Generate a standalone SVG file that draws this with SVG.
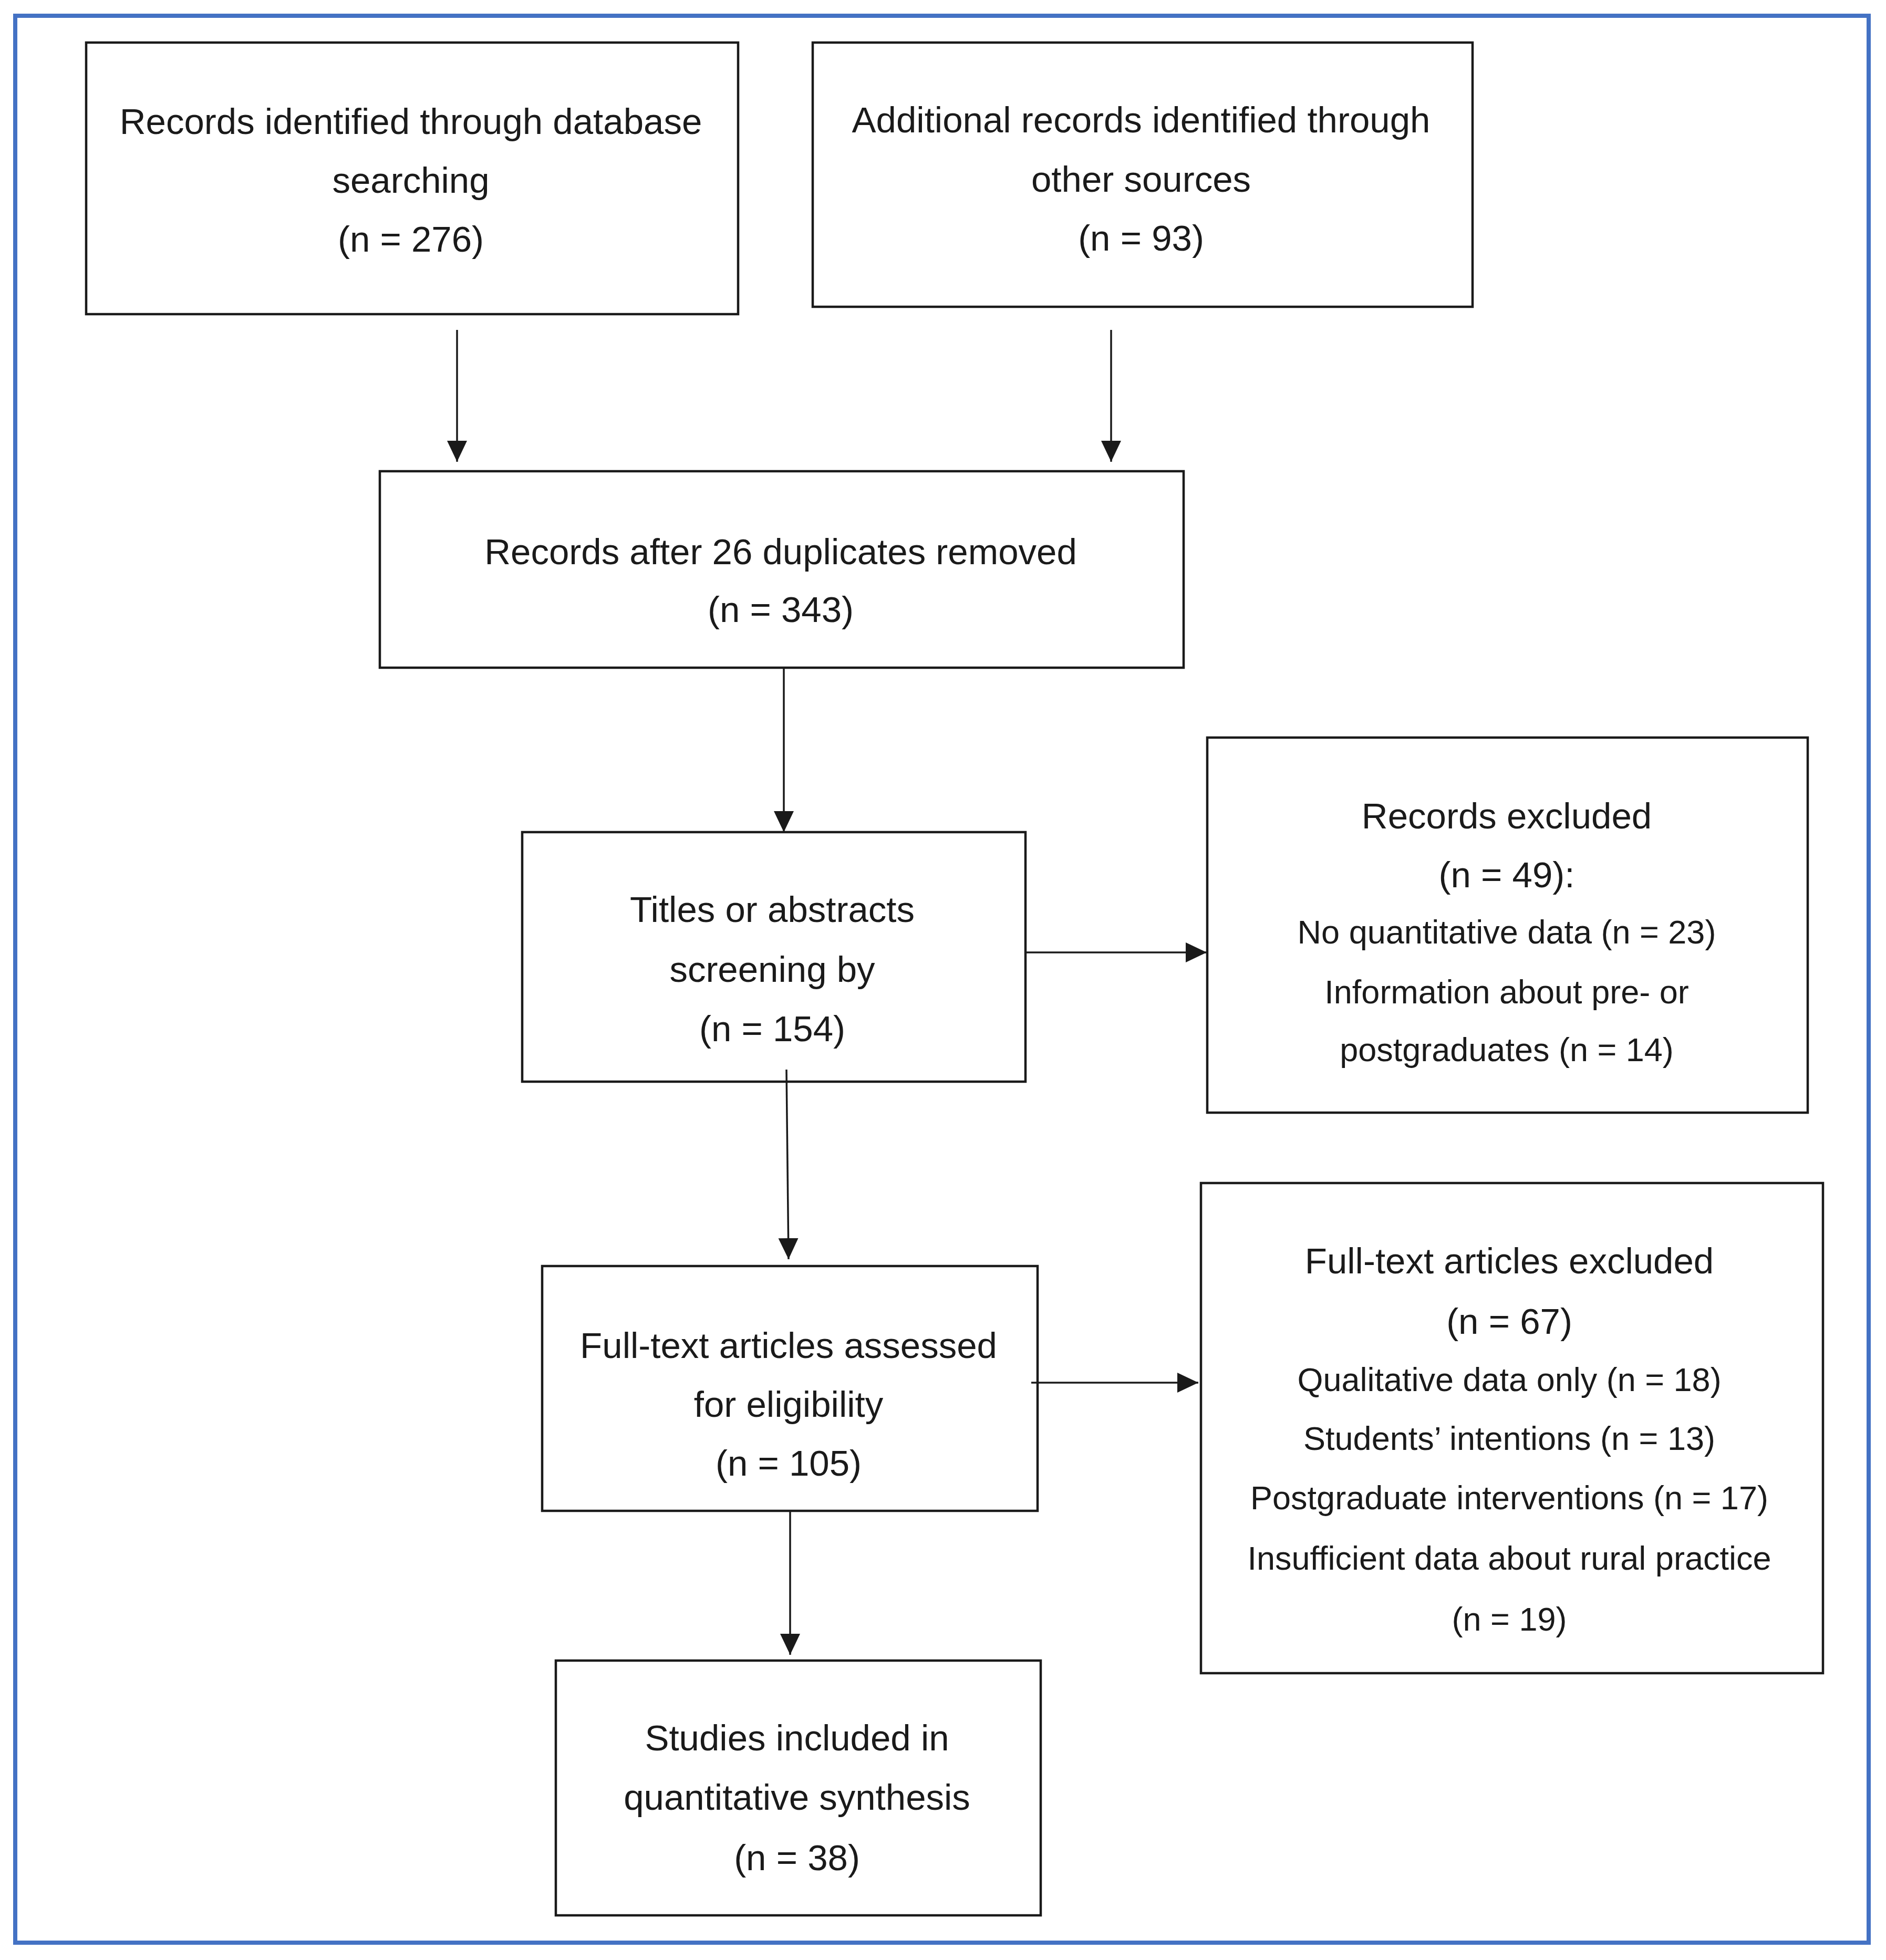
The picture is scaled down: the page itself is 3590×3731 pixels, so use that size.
<svg xmlns="http://www.w3.org/2000/svg" width="3590" height="3731" viewBox="0 0 3590 3731">
<style>
.box{fill:#ffffff;stroke:#1a1a1a;stroke-width:4.5}
.t{font-family:"Liberation Sans",Arial,sans-serif;font-size:69px;fill:#1a1a1a;text-anchor:middle}
.s{font-family:"Liberation Sans",Arial,sans-serif;font-size:63px;fill:#1a1a1a;text-anchor:middle}
.c{stroke:#1a1a1a;stroke-width:3.5;fill:none;marker-end:url(#ah)}
</style>
<defs>
<marker id="ah" markerUnits="userSpaceOnUse" markerWidth="42" markerHeight="40" refX="40" refY="19" orient="auto">
<path d="M0,0 L40,19 L0,38 z" fill="#1a1a1a"/>
</marker>
</defs>
<rect width="3590" height="3731" fill="#ffffff"/>
<rect id="frame" x="29" y="30" width="3528" height="3668" fill="none" stroke="#4472C4" stroke-width="8"/>
<g id="n1">
<rect class="box" x="164" y="81" width="1241" height="517"/>
<text class="t" x="782" y="255">Records identified through database</text>
<text class="t" x="782" y="367">searching</text>
<text class="t" x="782" y="479">(n = 276)</text>
</g>
<g id="n2">
<rect class="box" x="1547" y="81" width="1256" height="503"/>
<text class="t" x="2172" y="252">Additional records identified through</text>
<text class="t" x="2172" y="365">other sources</text>
<text class="t" x="2172" y="477">(n = 93)</text>
</g>
<g id="n3">
<rect class="box" x="723" y="897" width="1530" height="374"/>
<text class="t" x="1486" y="1074">Records after 26 duplicates removed</text>
<text class="t" x="1486" y="1184">(n = 343)</text>
</g>
<g id="n4">
<rect class="box" x="994" y="1584" width="958" height="475"/>
<text class="t" x="1470" y="1755">Titles or abstracts</text>
<text class="t" x="1470" y="1869">screening by</text>
<text class="t" x="1470" y="1982">(n = 154)</text>
</g>
<g id="n5">
<rect class="box" x="2298" y="1404" width="1143" height="714"/>
<text class="t" x="2868" y="1577">Records excluded</text>
<text class="t" x="2868" y="1689">(n = 49):</text>
<text class="s" x="2868" y="1796">No quantitative data (n = 23)</text>
<text class="s" x="2868" y="1910">Information about pre- or</text>
<text class="s" x="2868" y="2020">postgraduates (n = 14)</text>
</g>
<g id="n6">
<rect class="box" x="1032" y="2410" width="943" height="466"/>
<text class="t" x="1501" y="2585">Full-text articles assessed</text>
<text class="t" x="1501" y="2697">for eligibility</text>
<text class="t" x="1501" y="2809">(n = 105)</text>
</g>
<g id="n7">
<rect class="box" x="2286" y="2252" width="1184" height="933"/>
<text class="t" x="2873" y="2424">Full-text articles excluded</text>
<text class="t" x="2873" y="2539">(n = 67)</text>
<text class="s" x="2873" y="2648">Qualitative data only (n = 18)</text>
<text class="s" x="2873" y="2760">Students’ intentions (n = 13)</text>
<text class="s" x="2873" y="2873">Postgraduate interventions (n = 17)</text>
<text class="s" x="2873" y="2988">Insufficient data about rural practice</text>
<text class="s" x="2873" y="3104">(n = 19)</text>
</g>
<g id="n8">
<rect class="box" x="1058" y="3161" width="923" height="485"/>
<text class="t" x="1517" y="3332">Studies included in</text>
<text class="t" x="1517" y="3445">quantitative synthesis</text>
<text class="t" x="1517" y="3560">(n = 38)</text>
</g>
<g id="connectors">
<line class="c" x1="870" y1="628" x2="870" y2="879"/>
<line class="c" x1="2115" y1="628" x2="2115" y2="879"/>
<line class="c" x1="1492" y1="1271" x2="1492" y2="1584"/>
<line class="c" x1="1952" y1="1813" x2="2297" y2="1813"/>
<line class="c" x1="1497" y1="2036" x2="1501" y2="2397"/>
<line class="c" x1="1963" y1="2632" x2="2281" y2="2632"/>
<line class="c" x1="1504" y1="2876" x2="1504" y2="3150"/>
</g>
</svg>
